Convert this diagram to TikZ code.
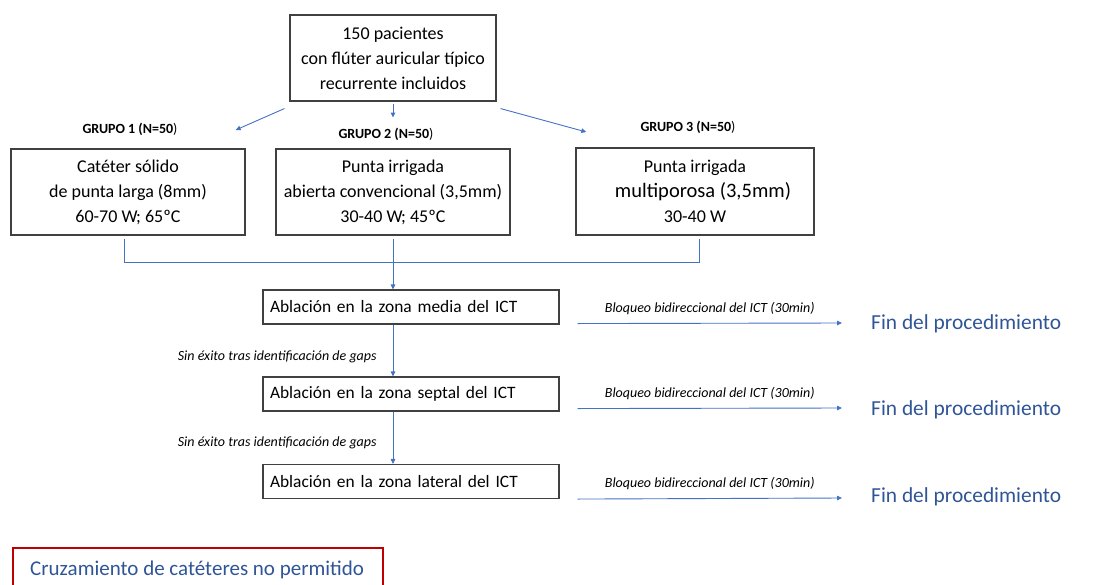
\documentclass[tikz,border=0pt]{standalone}
\usepackage{fontspec}
\setmainfont{Carlito}
\usetikzlibrary{arrows.meta,calc,positioning}
\definecolor{arrblue}{RGB}{68,114,196}
\definecolor{txtblue}{RGB}{47,85,151}
\definecolor{boxred}{RGB}{192,0,0}
\definecolor{boxgray}{RGB}{64,64,64}
\begin{document}
\begin{tikzpicture}[x=1pt,y=-1pt,
  box/.style={draw=boxgray,line width=1.1pt,align=center,inner sep=0pt,
    font=\fontsize{18}{25}\selectfont},
  stepbox/.style={draw=boxgray,line width=1.1pt,align=left,inner sep=0pt,
    minimum width=296pt,minimum height=34pt,text width=282pt,
    font=\fontsize{17.4}{22}\selectfont},
  grp/.style={inner sep=0pt,font=\fontsize{14}{16}\selectfont\bfseries},
  lbl/.style={inner sep=1pt,font=\fontsize{14}{16}\selectfont\itshape},
  fin/.style={inner sep=0pt,anchor=west,text=txtblue,font=\fontsize{21.4}{24}\selectfont},
  arr/.style={draw=arrblue,line width=0.9pt,-{Triangle[length=5pt,width=4.5pt]}},
  conn/.style={draw=arrblue,line width=0.9pt}]
\useasboundingbox (0,0) rectangle (1095,584);
\clip (0,0) rectangle (1095,584);

% top box
\node[box,minimum width=206pt,minimum height=86pt] (top) at (393,58)
  {150 pacientes\\con flúter auricular típico\\recurrente incluidos};

% group labels
\node[grp] (g1lab) at (130,129) {GRUPO 1 (N=50{\mdseries )}};
\node[grp] (g2lab) at (386,134) {GRUPO 2 (N=50{\mdseries )}};
\node[grp] (g3lab) at (688,127) {GRUPO 3 (N=50{\mdseries )}};

% group boxes
\node[box,minimum width=234pt,minimum height=86pt] (g1) at (128,192)
  {Catéter sólido\\de punta larga (8mm)\\60-70 W; 65ºC};
\node[box,minimum width=234pt,minimum height=86pt] (g2) at (393,192)
  {Punta irrigada\\abierta convencional (3,5mm)\\30-40 W; 45ºC};
\node[box,minimum width=238pt,minimum height=87pt] (g3) at (695,191.5)
  {Punta irrigada\\\hspace*{16pt}{\fontsize{20.5}{25}\selectfont multiporosa (3,5mm)}\\30-40 W};

% arrows from top box
\coordinate (e1) at ($(g1lab.east)+(58,1)$);
\coordinate (e3) at ($(g3lab.west)+(-54,5)$);
\draw[arr] ($(top.south west)+(-5,7)$) -- (e1);
\draw[arr] ($(top.south)+(0,2)$) -- ($(top.south)+(0,16)$);
\draw[arr] ($(top.south east)+(4,7)$) -- (e3);

% ablation boxes
\node[stepbox] (media) at (411,307) {Ablación en la zona media del ICT};
\node[stepbox] (septal) at (411,394) {Ablación en la zona septal del ICT};
\node[stepbox] (lateral) at (411,481.5) {Ablación en la zona lateral del ICT};

% bracket
\draw[conn] ($(g1.south)+(-4,3)$) -- ++(0,24) -| ($(g3.south)+(4,3)$);
\draw[arr] ($(g2.south)+(0,3)$) -- (media.north -| g2.south);

% vertical arrows
\draw[arr] (media.south -| g2.south) -- (septal.north -| g2.south)
  node[lbl,pos=0.63,left=15pt] {Sin éxito tras identificación de gaps};
\draw[arr] (septal.south -| g2.south) -- (lateral.north -| g2.south)
  node[lbl,pos=0.6,left=15pt] {Sin éxito tras identificación de gaps};

% fin nodes
\node[fin] (fin1) at (871,324) {Fin del procedimiento};
\node[fin] (fin2) at (871,410) {Fin del procedimiento};
\node[fin] (fin3) at (871,497) {Fin del procedimiento};

\draw[arr] ($(media.south east)+(18,-1)$) -- ($(fin1.west)+(-29,-1)$)
  node[lbl,midway,above=7pt] {Bloqueo bidireccional del ICT (30min)};
\draw[arr] ($(septal.south east)+(18,-3)$) -- ($(fin2.west)+(-29,-2)$)
  node[lbl,midway,above=7pt] {Bloqueo bidireccional del ICT (30min)};
\draw[arr] ($(lateral.south east)+(18,0)$) -- ($(fin3.west)+(-29,1)$)
  node[lbl,midway,above=7pt] {Bloqueo bidireccional del ICT (30min)};

% red box
\draw[boxred,line width=1.8pt] (13,600) -- (13,548) -- (383,548) -- (383,600);
\node[inner sep=0pt,anchor=west,text=txtblue,font=\fontsize{21}{24}\selectfont] (cruz) at (30,570)
  {Cruzamiento de catéteres no permitido};
\end{tikzpicture}
\end{document}
